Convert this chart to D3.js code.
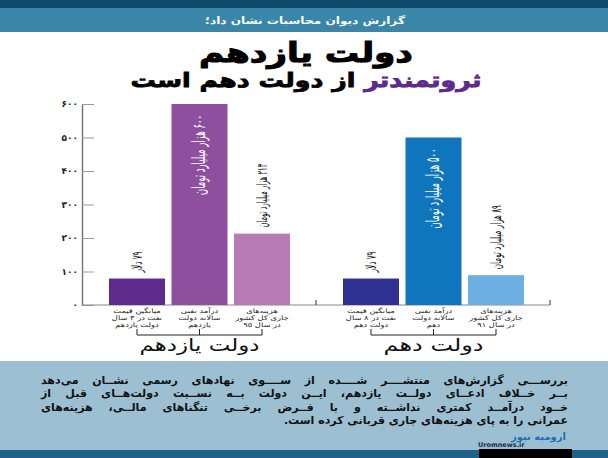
<!DOCTYPE html>
<html>
<head>
<meta charset="utf-8">
<script src="https://cdn.jsdelivr.net/npm/d3@7/dist/d3.min.js"></script>
<style>
html, body { margin: 0; padding: 0; background: #fff; }
svg { display: block; }
text { font-family: "DejaVu Sans", "Noto Sans", sans-serif; direction: rtl; }
</style>
</head>
<body>
<svg width="608" height="458"></svg>
<script>
// values
var groups = ["دولت یازدهم", "دولت دهم"];
var valuesEleven = [79, 600, 213];
var valuesTen = [79, 500, 89];
var colorsEleven = ["#5f2a8e", "#8f4f9f", "#b87ab5"];
var colorsTen = ["#2e3192", "#0f75bc", "#6cb0e3"];
var valueLabelsEleven = ["۷۹ دلار", "۶۰۰ هزار میلیارد تومان", "۲۱۳ هزار میلیارد تومان"];
var valueLabelsTen = ["۷۹ دلار", "۵۰۰ هزار میلیارد تومان", "۸۹ هزار میلیارد تومان"];
var catsEleven = [
    ["میانگین قیمت", "نفت در ۳ سال", "دولت یازدهم"],
    ["درآمد نفتی", "سالانه دولت", "یازدهم"],
    ["هزینه‌های", "جاری کل کشور", "در سال ۹۵"]
];
var catsTen = [
    ["میانگین قیمت", "نفت در ۸ سال", "دولت دهم"],
    ["درآمد نفتی", "سالانه دولت", "دهم"],
    ["هزینه‌های", "جاری کل کشور", "در سال ۹۱"]
];
var yTicks = [0, 100, 200, 300, 400, 500, 600];
var paragraph = [
    "بررســـی گزارش‌های منتشــــر شــــده از ســــوی نهادهای رسمی نشــان می‌دهد",
    "بــر خــلاف ادعــای دولــت یازدهم، ایــن دولت بــه نســبت دولت‌هــای قبل از",
    "خــود درآمــد کمتری نداشــته و با فــرض برخــی تنگناهای مالــی، هزینه‌های",
    "عمرانی را به پای هزینه‌های جاری قربانی کرده است."
];

var svg = d3.select("svg");

function persian(n) {
    return String(n).replace(/\d/g, function(d) { return "۰۱۲۳۴۵۶۷۸۹"[+d]; });
}

// stretch a centred text to a given width around its own anchor
function fitWidth(t, x, y, width) {
    var len = t.node().getComputedTextLength();
    t.attr("transform", "translate(" + x + "," + y + ") scale(" + (width / len) + ",1)");
}

// page bands
svg.append("rect").attr("width", 608).attr("height", 8).attr("fill", "#0f4a6d");
svg.append("rect").attr("y", 8).attr("width", 608).attr("height", 24).attr("fill", "#3a86a8");
svg.append("rect").attr("y", 361).attr("width", 608).attr("height", 89).attr("fill", "#9cc0d2");
svg.append("rect").attr("y", 450).attr("width", 608).attr("height", 8).attr("fill", "#1f6285");
svg.append("rect").attr("x", 479).attr("y", 449).attr("width", 93).attr("height", 9).attr("fill", "#000");

var head = svg.append("text").attr("text-anchor", "middle")
    .attr("fill", "#fff").attr("font-weight", "bold").attr("font-size", 10)
    .text("گزارش دیوان محاسبات نشان داد؛");
fitWidth(head, 305, 24, 200);

var title = svg.append("text").attr("text-anchor", "middle")
    .attr("fill", "#000").attr("font-weight", "bold").attr("font-size", 27)
    .attr("stroke", "#000").attr("stroke-width", 1)
    .text("دولت یازدهم");
fitWidth(title, 306, 62, 214);

var sub = svg.append("text").attr("text-anchor", "middle")
    .attr("font-weight", "bold").attr("font-size", 20).attr("stroke-width", 0.8);
sub.append("tspan").attr("fill", "#5f2a8e").attr("stroke", "#5f2a8e").text("ثروتمندتر");
sub.append("tspan").attr("fill", "#000").attr("stroke", "#000").text(" از دولت دهم است");
fitWidth(sub, 306, 87, 351);

// scales
var y = d3.scaleLinear().domain([0, 600]).range([305, 104]);
var xGroup = d3.scalePoint().domain(groups).range([109, 343]);
var xBar = d3.scaleBand().domain([0, 1, 2]).range([0, 181]).paddingInner(0.104);

// axes
svg.append("g")
    .attr("transform", "translate(82,0)")
    .call(d3.axisLeft(y).tickValues(yTicks).tickSize(-12).tickSizeOuter(0).tickPadding(4)
        .tickFormat(function(d) { return persian(d); }))
    .call(function(g) {
        g.select(".domain").attr("stroke", "#777").attr("stroke-width", 1.5);
        g.selectAll(".tick line").attr("stroke", "#999").attr("stroke-width", 1);
        g.selectAll(".tick text").attr("fill", "#222").attr("font-size", 9)
            .attr("font-weight", "bold").attr("letter-spacing", 2.5)
            .style("direction", "ltr");
    });

svg.append("line").attr("x1", 82).attr("x2", 550).attr("y1", y(0)).attr("y2", y(0))
    .attr("stroke", "#888").attr("stroke-width", 1);
[316, 550].forEach(function(x) {
    svg.append("line").attr("x1", x).attr("x2", x).attr("y1", y(0)).attr("y2", y(0) - 5)
        .attr("stroke", "#333").attr("stroke-width", 1);
});

var sets = [
    { name: groups[0], values: valuesEleven, colors: colorsEleven, labels: valueLabelsEleven, cats: catsEleven, nameWidth: 120 },
    { name: groups[1], values: valuesTen, colors: colorsTen, labels: valueLabelsTen, cats: catsTen, nameWidth: 100 }
];

sets.forEach(function(s) {
    var g = svg.append("g").attr("transform", "translate(" + xGroup(s.name) + ",0)");

    g.selectAll(".bar").data(s.values).enter().append("rect")
        .attr("class", "bar")
        .attr("x", function(d, i) { return xBar(i); })
        .attr("y", function(d) { return y(d); })
        .attr("width", xBar.bandwidth())
        .attr("height", function(d) { return y(0) - y(d); })
        .attr("fill", function(d, i) { return s.colors[i]; });

    // rotated value labels, squeezed like the condensed face of the original
    s.values.forEach(function(d, i) {
        var inside = i == 1;
        var target = inside ? 80 : (i == 0 ? 21 : 64);
        var top = inside ? y(d) + 11 : y(d) - 6 - target;
        var t = g.append("text")
            .attr("text-anchor", "start")
            .attr("font-size", inside ? 18 : 14)
            .attr("fill", inside ? "#fff" : "#111")
            .text(s.labels[i]);
        var len = t.node().getComputedTextLength();
        t.attr("transform", "translate(" + (xBar(i) + xBar.bandwidth() / 2 + 5) + "," + top + ") rotate(-90) scale(" + (target / len) + ",1)");
    });

    // category labels
    s.cats.forEach(function(lines, i) {
        lines.forEach(function(line, j) {
            g.append("text")
                .attr("transform", "translate(" + (xBar(i) + xBar.bandwidth() / 2) + "," + (312.5 + j * 7.3) + ") scale(1.3,1)")
                .attr("text-anchor", "middle")
                .attr("font-size", 6.4)
                .attr("fill", "#222")
                .text(line);
        });
    });

    // bracket under each group
    var left = xBar(0) + xBar.bandwidth() / 2;
    var right = xBar(2) + xBar.bandwidth() / 2;
    var mid = xBar(1) + xBar.bandwidth() / 2;
    g.append("path")
        .attr("d", "M" + left + ",329V335H" + right + "V329M" + mid + ",329V335")
        .attr("fill", "none").attr("stroke", "#222").attr("stroke-width", 1);

    var name = g.append("text")
        .attr("text-anchor", "middle")
        .attr("font-size", 17)
        .attr("fill", "#111")
        .text(s.name);
    fitWidth(name, mid, 351, s.nameWidth);
});

// justified paragraph
paragraph.forEach(function(line, i) {
    var t = svg.append("text")
        .attr("x", 568)
        .attr("y", 384 + i * 13.4)
        .attr("text-anchor", "start")
        .attr("font-size", 11)
        .attr("font-weight", "bold")
        .attr("fill", "#111")
        .text(line);
    if (i < paragraph.length - 1) {
        var extra = (527 - t.node().getComputedTextLength()) / (line.split(" ").length - 1);
        t.attr("word-spacing", extra);
    }
});

// logo
svg.append("text").attr("x", 566).attr("y", 440).attr("text-anchor", "start")
    .attr("font-size", 10).attr("font-weight", "bold").attr("fill", "#1c6fb5")
    .text("ارومیه نیوز");
svg.append("text").attr("x", 478).attr("y", 447).style("direction", "ltr")
    .attr("font-size", 6.5).attr("font-weight", "bold").attr("fill", "#1a2a44")
    .text("Uromnews.ir");
</script>
</body>
</html>
